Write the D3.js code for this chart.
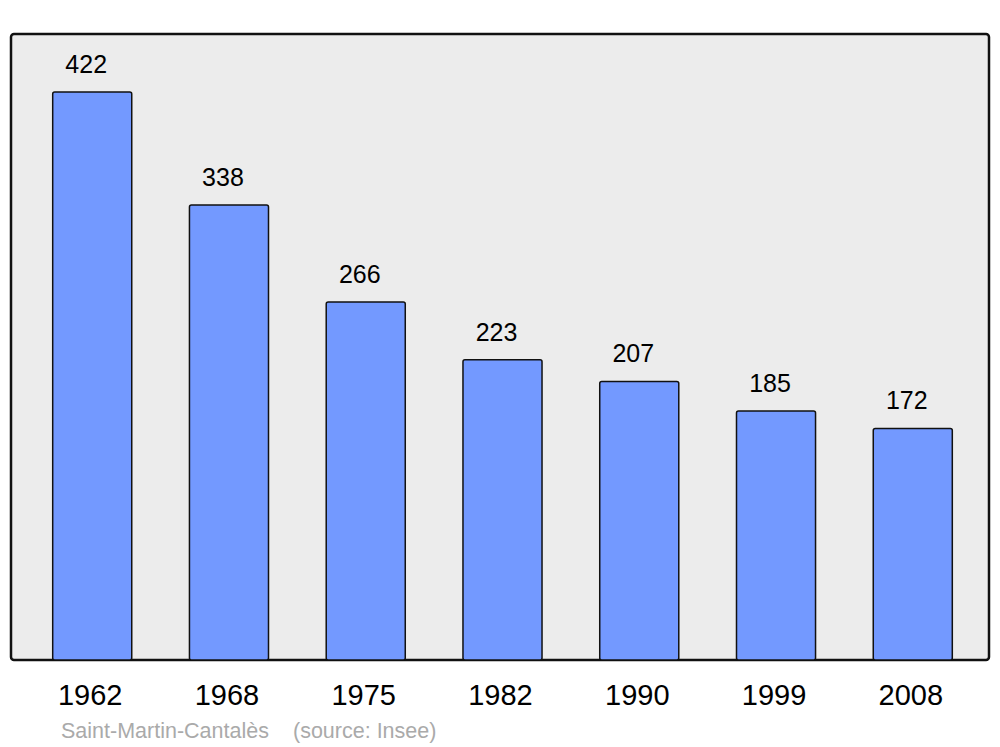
<!DOCTYPE html>
<html>
<head>
<meta charset="utf-8">
<script src="https://cdn.jsdelivr.net/npm/d3@7"></script>
<style>
  body { margin: 0; background: #fff; }
  text { font-family: "Liberation Sans", Arial, sans-serif; }
</style>
</head>
<body>
<svg id="chart" width="1000" height="747"></svg>
<script>
const years = ["1962", "1968", "1975", "1982", "1990", "1999", "2008"]
const population = [422, 338, 266, 223, 207, 185, 172]
const commune = "Saint-Martin-Cantalès"
const source = "(source: Insee)"

const w = 1000, h = 747
const frame = { x0: 11, x1: 989, y0: 34, y1: 660 }

const svg = d3.select("#chart")

svg.append("rect")
    .attr("x", frame.x0)
    .attr("y", frame.y0)
    .attr("width", frame.x1 - frame.x0)
    .attr("height", frame.y1 - frame.y0)
    .attr("rx", 3)
    .style("fill", "#ececec")
    .style("stroke", "#111")
    .style("stroke-width", 2.5)

const xScale = d3.scaleBand()
    .domain(years)
    .range([33, 972])
    .paddingInner(0.422)
    .paddingOuter(0.144)

const yScale = d3.scaleLinear()
    .domain([0, 422])
    .range([frame.y1, 92])

const data = years.map((y, i) => ({ year: y, value: population[i] }))

svg.selectAll("rect.bar")
    .data(data)
    .join("rect")
    .attr("class", "bar")
    .attr("x", d => xScale(d.year))
    .attr("y", d => yScale(d.value))
    .attr("width", xScale.bandwidth())
    .attr("height", d => frame.y1 - yScale(d.value))
    .attr("rx", 2)
    .style("fill", "#7399ff")
    .style("stroke", "#111")
    .style("stroke-width", 1.5)

// value labels
svg.selectAll("text.val")
    .data(data)
    .join("text")
    .attr("class", "val")
    .attr("x", d => xScale(d.year) + xScale.bandwidth() / 2 - 6)
    .attr("y", d => yScale(d.value) - 19)
    .attr("text-anchor", "middle")
    .style("font-size", "25px")
    .style("fill", "#000")
    .text(d => d.value)

// year labels
svg.selectAll("text.year")
    .data(data)
    .join("text")
    .attr("class", "year")
    .attr("x", d => xScale(d.year) + xScale.bandwidth() / 2 - 2)
    .attr("y", 705)
    .attr("text-anchor", "middle")
    .style("font-size", "29px")
    .style("fill", "#000")
    .text(d => d.year)

svg.append("text")
    .attr("x", 61)
    .attr("y", 738)
    .style("font-size", "21.5px")
    .style("fill", "#aaa")
    .text(commune)

svg.append("text")
    .attr("x", 293)
    .attr("y", 738)
    .style("font-size", "21.5px")
    .style("fill", "#aaa")
    .text(source)
</script>
</body>
</html>
